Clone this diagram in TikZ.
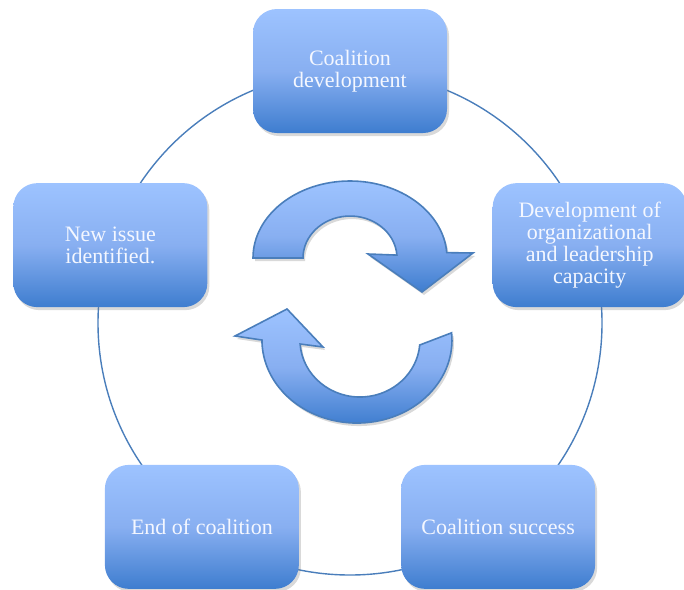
\documentclass[tikz,border=0pt]{standalone}
\usepackage{fontspec}
\setmainfont{Liberation Serif}
\usetikzlibrary{shadows,calc}
\definecolor{boxtop}{HTML}{9DC3FF}
\definecolor{boxmid}{HTML}{88AFF1}
\definecolor{boxbot}{HTML}{3E7DCF}
\definecolor{ringblue}{HTML}{4A7EBB}
\definecolor{textwhite}{HTML}{F4F7FF}
\begin{document}
\begin{tikzpicture}[x=1pt,y=1pt,
  softshadow/.style={drop shadow={shadow xshift=2pt,shadow yshift=-3pt,opacity=0.3}},
  stagebox/.style={rounded corners=24pt, minimum width=194pt, minimum height=124pt,
    inner sep=0pt, top color=boxtop, bottom color=boxbot, middle color=boxmid,
    text=textwhite, align=center, font=\fontsize{22}{21.7}\selectfont, softshadow},
  ring/.style={draw=ringblue, line width=1.4pt},
  cyclearrow/.style={draw=ringblue, line width=1.6pt, top color=boxtop, bottom color=boxbot,
    middle color=boxmid, line join=miter, softshadow}]
\useasboundingbox (0,0) rectangle (684,-589);
\coordinate (c) at (350,-323);
\draw[ring] (c) circle[radius=252];
\node[stagebox] (dev) at ($(c)+(90:252)$) {Coalition\\development};
\node[stagebox] (cap) at ($(c)+(18:252)$) {Development of\\organizational\\and leadership\\capacity};
\node[stagebox] (succ) at ($(c)+(-54:252)$) {Coalition success};
\node[stagebox] (end) at ($(c)+(-126:252)$) {End of coalition};
\node[stagebox] (new) at ($(c)+(162:252)$) {New issue\\identified.};
% top cycle arrow
\path[cyclearrow] (253,-258) arc[start angle=180, end angle=4, x radius=97, y radius=77]
  -- (473,-253) -- (422,-292) -- (368,-254) -- (396.9,-255.1)
  arc[start angle=4, end angle=180, x radius=47, y radius=42] -- cycle;
% bottom cycle arrow
\path[cyclearrow] (451.6,-332.8) arc[start angle=5, end angle=-180, x radius=95, y radius=83]
  -- (235,-336) -- (287,-309) -- (323,-347) -- (300.1,-344)
  arc[start angle=-176, end angle=-5, x radius=60, y radius=57] -- cycle;
\end{tikzpicture}
\end{document}
